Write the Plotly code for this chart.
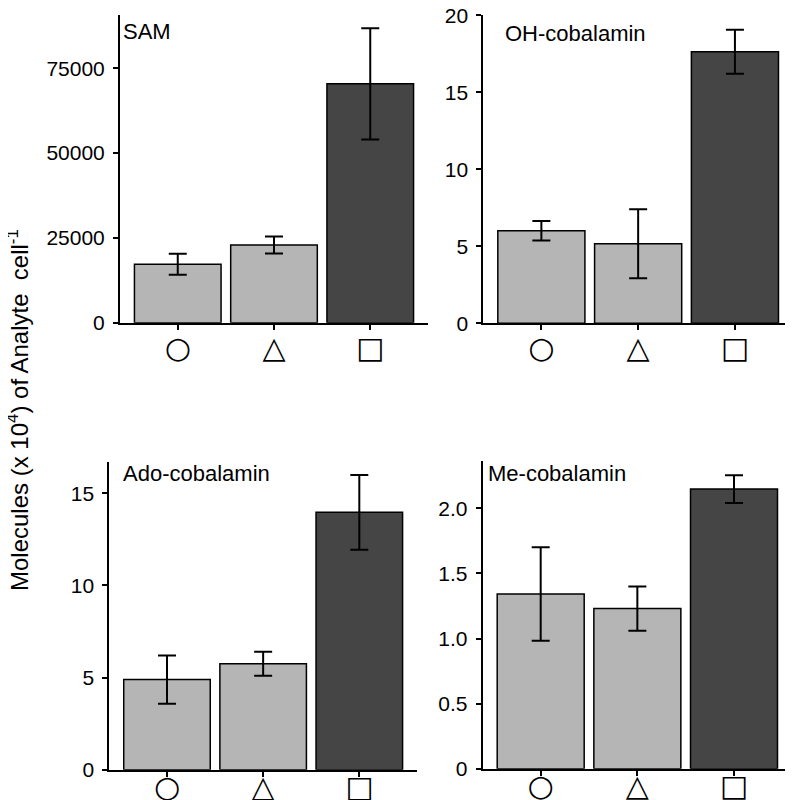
import plotly.graph_objects as go

# page body has an 8px margin; lay the figure out in page pixels and shift
OFF = 8
W, H = 793 - OFF, 800 - OFF

categories = [0, 1, 2]
tick_symbols = ["○", "△", "□"]

sam_values = [17200, 22900, 70400]
sam_errors = [3100, 2500, 16400]

oh_values = [6.01, 5.17, 17.64]
oh_errors = [0.64, 2.24, 1.43]

ado_values = [4.89, 5.75, 13.97]
ado_errors = [1.31, 0.65, 2.03]

me_values = [1.342, 1.23, 2.148]
me_errors = [0.36, 0.17, 0.106]

panel_titles = ["SAM", "OH-cobalamin", "Ado-cobalamin", "Me-cobalamin"]
y_title = "Molecules (x 10<sup>4</sup>) of Analyte  cell<sup>-1</sup>"

sam_ticks = [0, 25000, 50000, 75000]
oh_ticks = [0, 5, 10, 15, 20]
ado_ticks = [0, 5, 10, 15]
me_ticks = [0, 0.5, 1.0, 1.5, 2.0]
me_ticktext = ["0", "0.5", "1.0", "1.5", "2.0"]

bar_colors = ["#b5b5b5", "#b5b5b5", "#454545"]

# page-pixel geometry of each panel: (left, right, top, bottom)
panels = [
    (120, 428, 15, 322.7),
    (483.3, 793, 15, 323.3),
    (109.3, 417, 461.7, 769.7),
    (482.7, 792, 460.7, 768.7),
]
yranges = [[0, 90700], [0, 20.02], [0, 16.72], [0, 2.366]]
values = [sam_values, oh_values, ado_values, me_values]
errors = [sam_errors, oh_errors, ado_errors, me_errors]
ytickvals = [sam_ticks, oh_ticks, ado_ticks, me_ticks]
yticktexts = [[str(v) for v in sam_ticks], [str(v) for v in oh_ticks],
              [str(v) for v in ado_ticks], me_ticktext]
title_pos = [(121, 31), (503, 33), (121, 474), (486, 473)]
x_standoff = [-8, -8, -16, -16]

FONT = "Liberation Sans, Arial, sans-serif"


def px(x):
    return (x - OFF) / W


def py(y):
    return 1 - (y - OFF) / H


fig = go.Figure()
layout = dict(
    width=W, height=H,
    margin=dict(l=0, r=0, t=0, b=0),
    paper_bgcolor="white", plot_bgcolor="white",
    showlegend=False,
    template="none",
    font=dict(family=FONT, size=21, color="black"),
    annotations=[],
)

for i in range(4):
    n = "" if i == 0 else str(i + 1)
    xa = "x" + n
    ya = "y" + n
    fig.add_trace(go.Bar(
        x=categories, y=values[i], width=0.9,
        marker=dict(color=bar_colors, line=dict(color="black", width=1.5)),
        error_y=dict(type="data", array=errors[i], color="black",
                     thickness=2, width=9),
        xaxis=xa, yaxis=ya,
    ))
    l, r, t, b = panels[i]
    layout["xaxis" + n] = dict(
        domain=[max(px(l), 0), min(px(r), 1.0)],
        range=[-0.6, 2.6], anchor=ya,
        showline=True, linecolor="black", linewidth=2,
        showgrid=False, zeroline=False,
        tickmode="array", tickvals=categories, ticktext=tick_symbols,
        ticks="outside", ticklen=5, tickwidth=2, tickcolor="black",
        tickfont=dict(family="DejaVu Sans", size=30, color="black"),
        ticklabelstandoff=x_standoff[i],
        ticklabeloverflow="allow",
        fixedrange=True,
    )
    layout["yaxis" + n] = dict(
        domain=[py(b), py(t)],
        range=yranges[i], anchor=xa,
        showline=True, linecolor="black", linewidth=2,
        showgrid=False, zeroline=False,
        tickmode="array", tickvals=ytickvals[i], ticktext=yticktexts[i],
        ticks="outside", ticklen=5, tickwidth=2, tickcolor="black",
        tickfont=dict(family=FONT, size=21, color="black"),
        ticklabelstandoff=4,
        ticklabeloverflow="allow",
        fixedrange=True,
    )
    tx, ty = title_pos[i]
    layout["annotations"].append(dict(
        text=panel_titles[i], x=px(tx), y=py(ty),
        xref="paper", yref="paper", xanchor="left", yanchor="middle",
        showarrow=False, font=dict(family=FONT, size=22, color="black"),
    ))

layout["annotations"].append(dict(
    text=y_title, x=px(18), y=py(410), xref="paper", yref="paper",
    xanchor="center", yanchor="middle", textangle=-90, showarrow=False,
    font=dict(family=FONT, size=24, color="black"),
))

fig.update_layout(**layout)
fig.write_html("out.html")
